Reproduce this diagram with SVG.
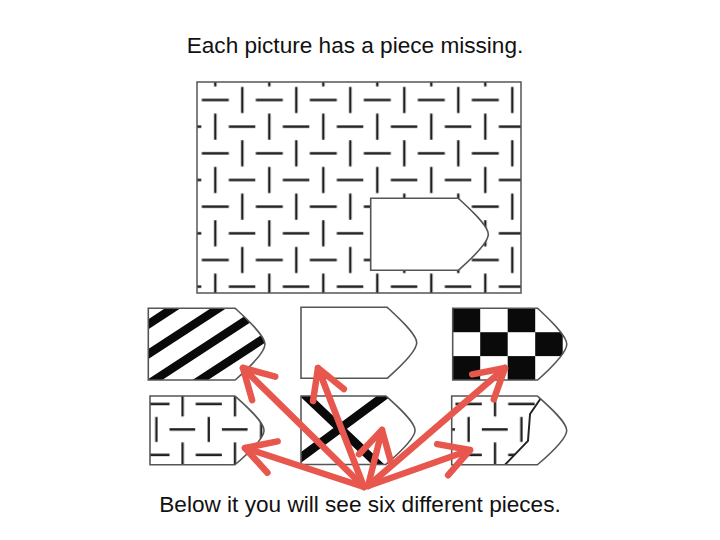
<svg xmlns="http://www.w3.org/2000/svg" width="720" height="540" viewBox="0 0 720 540">
<style>
.txt{font-family:"Liberation Sans",Arial,Helvetica,sans-serif;font-size:22.6px;fill:#111;text-anchor:middle}
.frame{fill:none;stroke:#555;stroke-width:1.5}
.hole{fill:#fff;stroke:#555;stroke-width:1.6}
.bg{fill:#fff}
.outline{fill:none;stroke:#555;stroke-width:1.6}
.dash{stroke:#1e1e1e;stroke-width:2.4;fill:none}
.stripe{stroke:#0a0a0a;stroke-width:8.5;fill:none}
.cross{stroke:#0a0a0a;stroke-width:9;fill:none}
.cell{fill:#0a0a0a}
.cut{stroke:#222;stroke-width:2;fill:none;stroke-linejoin:round}
.arrow{stroke:#e8574e;stroke-width:6.5;stroke-linecap:round;fill:none}
</style>
<defs>
<pattern id="dashes" patternUnits="userSpaceOnUse" x="201.3" y="86.67" width="54" height="53.33">
<path class="dash" d="M0.5,13.33h27 M41,0.33v26 M14,27v26 M27.5,40h26.5"/>
</pattern>
<path id="shape" d="M0,0H87.6C98,9.5 117.6,27 117.6,36C117.6,45 99,62 87.6,72H0Z"/>
<clipPath id="clipShape"><use href="#shape"/></clipPath>
<clipPath id="clipFrame"><rect x="197" y="82" width="324" height="211"/></clipPath>
<clipPath id="clipCut"><polygon points="-5,-5 93,-5 91.3,2.1 80.1,18.8 78,47 53.5,73 -5,80"/></clipPath>
<marker id="head" markerUnits="userSpaceOnUse" orient="auto" overflow="visible" markerWidth="40" markerHeight="40" refX="0" refY="0">
<path d="M-29,-16.5L0,0L-29,16.5" fill="none" stroke="#e8574e" stroke-width="6.5" stroke-linecap="round" stroke-linejoin="round"/>
</marker>
</defs>
<rect width="720" height="540" fill="#fff"/>
<text id="title" class="txt" x="355" y="53">Each picture has a piece missing.</text>
<g id="main-picture">
<g clip-path="url(#clipFrame)"><rect x="197" y="82" width="324" height="211" fill="url(#dashes)"/></g>
<rect class="frame" x="197" y="82" width="324" height="211"/>
<use href="#shape" class="hole" transform="translate(370.7,198.3)"/>
</g>
<g id="piece-stripes" transform="translate(148.3,308.3) scale(0.992,0.996)">
<use href="#shape" class="bg"/>
<g clip-path="url(#clipShape)">
<path class="stripe" d="M-10,22.5L130,-68.5M-10,52.5L130,-38.5M-10,82.5L130,-8.5M-10,112.5L130,21.5M-10,142.5L130,51.5"/>
</g>
<use href="#shape" class="outline"/>
</g>
<g id="piece-blank" transform="translate(301,307.3) scale(0.984,0.986)">
<use href="#shape" class="hole"/>
</g>
<g id="piece-checker" transform="translate(452.7,308.3) scale(0.97,0.996)">
<use href="#shape" class="bg"/>
<g clip-path="url(#clipShape)">
<rect class="cell" x="0" y="0" width="28.35" height="24"/>
<rect class="cell" x="56.7" y="0" width="28.35" height="24"/>
<rect class="cell" x="28.35" y="24" width="28.35" height="24"/>
<rect class="cell" x="85.05" y="24" width="28.35" height="24"/>
<rect class="cell" x="0" y="48" width="28.35" height="24"/>
<rect class="cell" x="56.7" y="48" width="28.35" height="24"/>
</g>
<use href="#shape" class="outline"/>
</g>
<g id="piece-correct" transform="translate(150,396) scale(0.97,0.955)">
<use href="#shape" class="bg"/>
<g clip-path="url(#clipShape)">
<g transform="translate(-370.7,-198.3)"><rect x="365" y="190" width="130" height="90" fill="url(#dashes)"/></g>
</g>
<use href="#shape" class="outline"/>
</g>
<g id="piece-cross" transform="translate(301,396) scale(0.97,0.95)">
<use href="#shape" class="bg"/>
<g clip-path="url(#clipShape)">
<path class="cross" d="M0,-5L84.6,77M92.2,-5L-6.6,69.6"/>
</g>
<use href="#shape" class="outline"/>
</g>
<g id="piece-half" transform="translate(451.7,396) scale(0.978,0.955)">
<use href="#shape" class="bg"/>
<g clip-path="url(#clipShape)">
<g clip-path="url(#clipCut)">
<g transform="translate(-360,-198.3)"><rect x="355" y="190" width="130" height="90" fill="url(#dashes)"/></g>
</g>
<polyline class="cut" points="91.3,2.1 80.1,18.8 78,47 53.5,73"/>
</g>
<use href="#shape" class="outline"/>
</g>
<g id="connectors">
<line class="arrow" x1="364" y1="487" x2="243" y2="368" marker-end="url(#head)"/>
<line class="arrow" x1="364" y1="487" x2="318" y2="368" marker-end="url(#head)"/>
<line class="arrow" x1="368" y1="486" x2="505" y2="368" marker-end="url(#head)"/>
<line class="arrow" x1="364" y1="487" x2="245" y2="448" marker-end="url(#head)"/>
<line class="arrow" x1="368" y1="486" x2="382" y2="430" marker-end="url(#head)"/>
<line class="arrow" x1="368" y1="486" x2="470" y2="450" marker-end="url(#head)"/>
</g>
<text id="caption" class="txt" x="360" y="512">Below it you will see six different pieces.</text>
</svg>
